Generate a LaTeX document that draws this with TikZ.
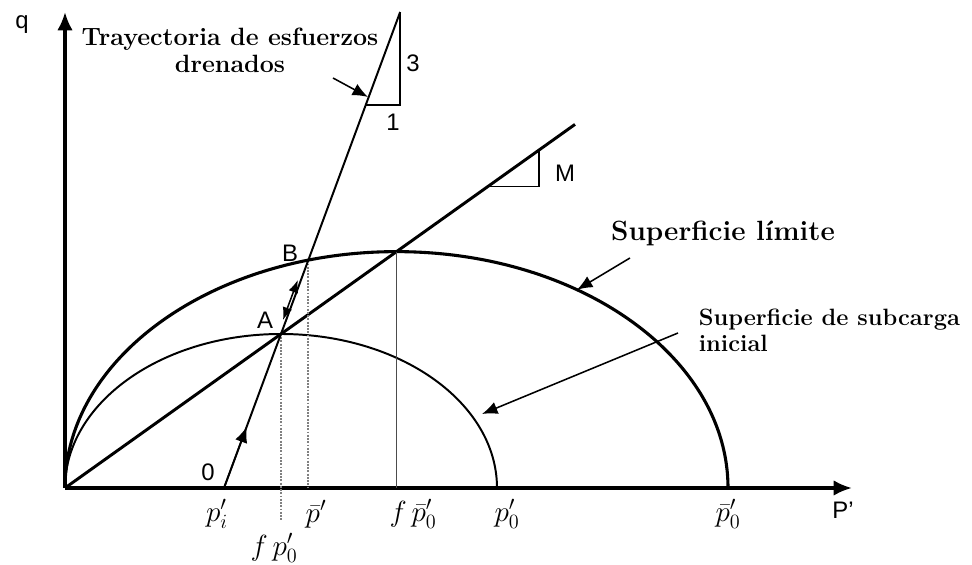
\documentclass[tikz,border=0pt]{standalone}
\usepackage{fontspec}
\newfontfamily\sanslbl{Liberation Sans}
\usetikzlibrary{arrows.meta}

\tikzset{
  flecha/.style={line width=1.1pt, -{Latex[length=11pt,width=9pt]}},
  rotulo/.style={font=\bfseries\fontsize{17.8}{19}\selectfont, align=center},
  letra/.style={font=\sanslbl\fontsize{17}{20}\selectfont},
  eje/.style={font=\fontsize{22}{26}\selectfont},
}

\begin{document}
\begin{tikzpicture}
    \useasboundingbox (-1.625,-1.925) rectangle (22.675,12.2);

    % Ejes
    \coordinate (O) at (0,0);
    \draw[line width=2.2pt, -{Latex[length=13pt,width=11pt]}] (O) -- (19.675,0) coordinate (xfin);
    \draw[line width=2.2pt, -{Latex[length=13pt,width=11pt]}] (O) -- (0,11.9) coordinate (yfin);
    \node[letra] (q) at (-1.075,11.575) {q};
    \node[letra] (P) at (19.45,-0.55) {P’};

    \coordinate (pi) at (3.975,0);
    \coordinate (A) at (5.4,3.85);
    \coordinate (B) at (6.082,5.693);
    \coordinate (C) at (8.2875,5.909);
    \coordinate (T) at (8.379,11.9);

    % Superficies
    \draw[line width=2.2pt] (O) arc[start angle=180, end angle=0, x radius=8.2875, y radius=5.909];
    \draw[line width=1.4pt] (O) arc[start angle=180, end angle=0, x radius=5.4, y radius=3.85];

    % Linea M
    \draw[line width=2.1pt] (O) -- (12.75,9.09) coordinate (Mfin);
    \draw[line width=1.1pt] (10.575,7.54) -- (11.85,7.54) -- (11.85,8.449);
    \node[letra] (M) at (12.5,7.875) {M};

    % Verticales
    \draw[gray, line width=1.3pt, densely dotted] (A) -- (5.4,-0.8);
    \draw[gray, line width=1.3pt, densely dotted] (B) -- (B |- O);
    \draw[gray!60!black, line width=0.9pt] (C) -- (C |- O);

    % Trayectoria drenada
    \draw[line width=1.4pt] (pi) -- (T);
    \draw[flecha] (pi) -- (4.54,1.525);
    \draw[line width=1.1pt, {Latex[length=9pt,width=7pt]}-{Latex[length=9pt,width=7pt]}] (5.45,4.2) -- (5.82,5.2);
    \draw[line width=1.1pt] (7.519,9.575) -- (8.379,9.575) -- (T);
    \node[letra] (tres) at (8.7,10.625) {3};
    \node[letra] (uno) at (8.2,9.15) {1};

    \node[letra] (cero) at (3.575,0.4) {0};
    \node[letra] (lA) at (5.0,4.2) {A};
    \node[letra] (lB) at (5.625,5.875) {B};

    % Rotulos del eje
    \node[eje] (lpi) at (3.8,-0.65) {$p'_i$};
    \node[eje] (lfp) at (5.225,-1.5) {$f\,p'_0$};
    \node[eje] (lpb) at (6.275,-0.65) {$\bar{p}'$};
    \node[eje] (lfpb) at (8.7,-0.65) {$f\,\bar{p}'_0$};
    \node[eje] (lp0) at (11.05,-0.65) {$p'_0$};
    \node[eje] (lpb0) at (16.575,-0.65) {$\bar{p}'_0$};

    % Textos y flechas
    \node[rotulo] (tray) at (4.125,10.95) {Trayectoria de esfuerzos\\drenados};
    \coordinate (colaT) at (6.7,10.25);
    \coordinate (puntaT) at (7.575,9.775);
    \draw[flecha] (colaT) -- (puntaT);

    \node[rotulo, font=\bfseries\fontsize{19.8}{22}\selectfont] (lim) at (16.45,6.375) {Superficie límite};
    \coordinate (colaL) at (14.125,5.75);
    \coordinate (puntaL) at (12.8,4.956);
    \draw[flecha] (colaL) -- (puntaL);

    \node[rotulo, font=\bfseries\fontsize{16.8}{18.5}\selectfont, align=left, anchor=west] (sub) at (15.72,3.95) {Superficie de subcarga\\inicial};
    \coordinate (colaS) at (15.325,3.875);
    \coordinate (puntaS) at (10.425,1.85);
    \draw[flecha] (colaS) -- (puntaS);
\end{tikzpicture}
\end{document}
